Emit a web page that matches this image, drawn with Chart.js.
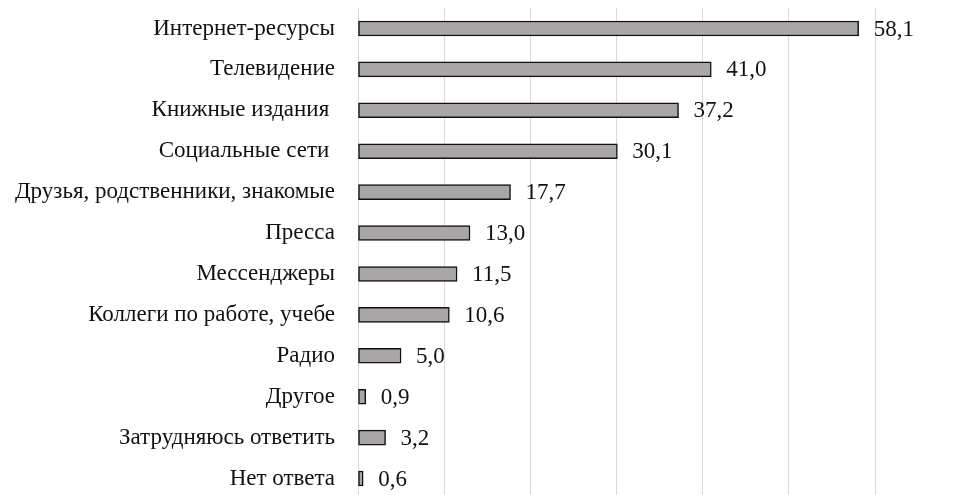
<!doctype html>
<html lang="ru">
<head>
<meta charset="UTF-8">
<title>Источники информации</title>
<script src="https://cdn.jsdelivr.net/npm/chart.js"></script>
<style>
    html, body {
        margin: 0;
        padding: 0;
        background: #fff;
        overflow: hidden;
    }
    #wrap {
        width: 956px;
        height: 500px;
        position: relative;
    }
</style>
</head>
<body>
<div id="wrap">
    <canvas id="chart"></canvas>
</div>
<script>
    const categories = [
        'Интернет-ресурсы',
        'Телевидение',
        'Книжные издания ',
        'Социальные сети ',
        'Друзья, родственники, знакомые',
        'Пресса',
        'Мессенджеры',
        'Коллеги по работе, учебе',
        'Радио',
        'Другое',
        'Затрудняюсь ответить',
        'Нет ответа'
    ];
    const values = [58.1, 41.0, 37.2, 30.1, 17.7, 13.0, 11.5, 10.6, 5.0, 0.9, 3.2, 0.6];

    const serif = "'Times New Roman', 'Liberation Serif', serif";

    // подписи значений справа от столбцов
    const valueLabels = {
        id: 'valueLabels',
        afterDatasetsDraw(chart) {
            const ctx = chart.ctx;
            const meta = chart.getDatasetMeta(0);
            const xScale = chart.scales.x;
            ctx.save();
            ctx.font = '23px ' + serif;
            ctx.fillStyle = '#111';
            ctx.textAlign = 'left';
            ctx.textBaseline = 'middle';
            meta.data.forEach((bar, i) => {
                const x = xScale.getPixelForValue(values[i]) + 15;
                ctx.fillText(values[i].toFixed(1).replace('.', ','), x, bar.y + 1);
            });
            ctx.restore();
        }
    };

    new Chart(document.getElementById('chart'), {
        type: 'bar',
        data: {
            labels: categories,
            datasets: [{
                data: values,
                backgroundColor: '#aaa6a6',
                borderColor: '#111',
                borderWidth: 1.5,
                borderSkipped: false,
                barThickness: 15
            }]
        },
        options: {
            indexAxis: 'y',
            responsive: true,
            maintainAspectRatio: false,
            animation: false,
            layout: { padding: { top: 8, right: 81, bottom: 1, left: 0 } },
            plugins: {
                legend: { display: false },
                tooltip: { enabled: false }
            },
            scales: {
                x: {
                    min: 0,
                    max: 60,
                    ticks: { display: false, stepSize: 10 },
                    grid: { color: '#d9d9d9', lineWidth: 1, drawTicks: false },
                    border: { display: false }
                },
                y: {
                    afterFit(scale) {
                        scale.width = 358;
                        scale.paddingTop = 0;
                        scale.paddingBottom = 0;
                    },
                    ticks: {
                        color: '#111',
                        padding: 23,
                        font: { family: serif, size: 23 }
                    },
                    grid: { display: false, drawTicks: false },
                    border: { display: false }
                }
            }
        },
        plugins: [valueLabels]
    });
</script>
</body>
</html>
